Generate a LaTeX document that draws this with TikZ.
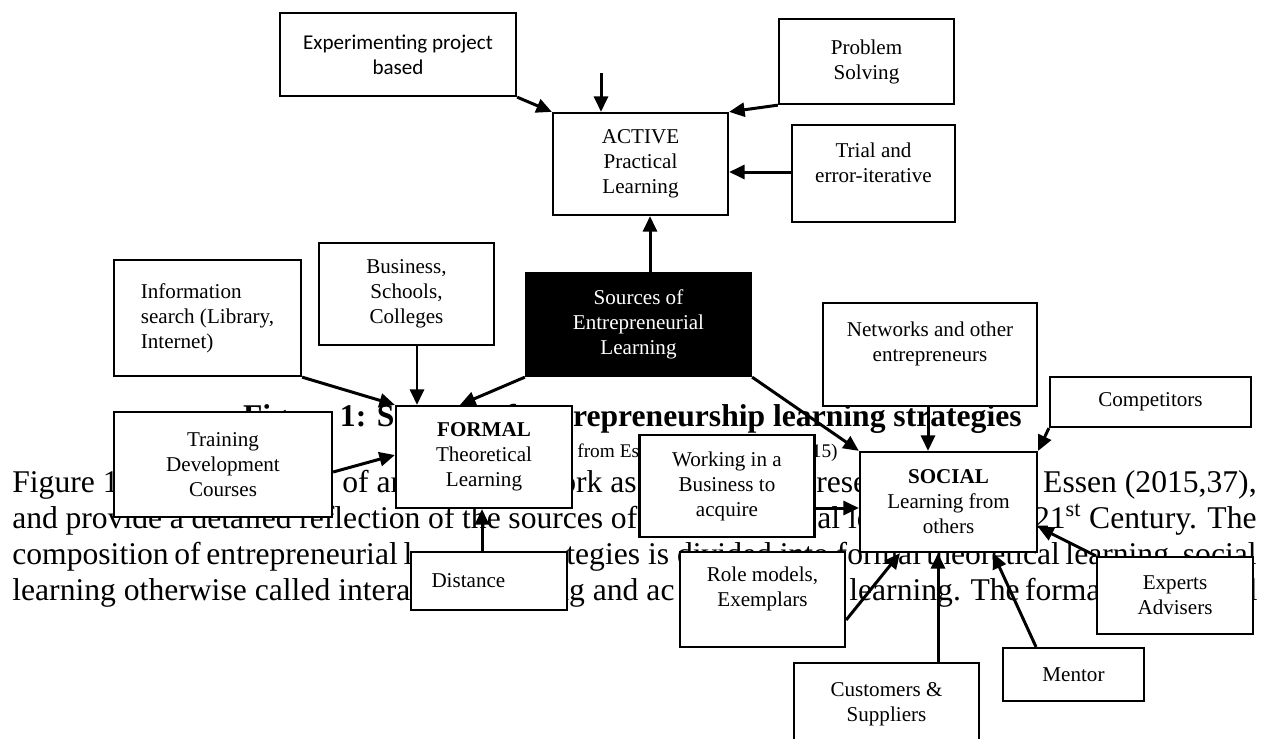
\documentclass[tikz,border=0pt]{standalone}
\usepackage{fontspec}
\setmainfont{Liberation Serif}
\newfontfamily\calibri{Carlito}
\usetikzlibrary{arrows.meta}
\newcommand{\bodyfont}{\fontsize{18}{21}\selectfont}
\newcommand{\boxfont}{\fontsize{12}{14.2}\selectfont}
\tikzset{
  box/.style={draw, fill=white, line width=1.3pt, align=center, font=\boxfont, inner sep=1pt},
  srcbox/.style={box, fill=black, text=white},
  boxtxt/.style={align=center, font=\boxfont, inner sep=0pt},
  arr/.style={-{Triangle[length=3.1mm, width=2.8mm]}, line width=1.7pt},
  txt/.style={font=\bodyfont, inner sep=0pt, anchor=base west},
  txtr/.style={txt, anchor=base east},
  capt/.style={font=\fontsize{18}{21}\selectfont\bfseries, inner sep=0pt, anchor=base east},
  subcapt/.style={font=\fontsize{11}{13}\selectfont, inner sep=0pt, anchor=base west},
}

\begin{document}
\begin{tikzpicture}[x=0.02cm, y=-0.02cm]
\fill[white] (0,0) rectangle (1267,738);
\useasboundingbox (0,0) rectangle (1267,738);
% page text behind the figure
\node[capt] (cap) at (1022,426) {Figure 1: Sources of Entrepreneurship learning strategies};
\node[subcapt] (suba) at (577,457) {from Essen};
\node[subcapt, anchor=base east] (subb) at (838,457) {2015)};
\node[txt] (la1) at (12,492) {Figure 1};
\node[txt] (la2) at (342,492) {of an};
\node[txtr] (la3) at (637,492) {framework as};
\node[txt] (la4) at (816,492) {resented by};
\node[txtr] (la5) at (1257,492) {Essen (2015,37),};
\node[txt] (lb1) at (12,528) {\makebox[12.5cm][s]{and provide a detailed reflection of the sources of}};
\node[txt] (lb2) at (817,528) {al learning in the};
\node[txtr] (lb3) at (1257,528) {21\textsuperscript{st} Century. The};
\node[txt] (lc1) at (12,564) {\makebox[8.0cm][s]{composition of entrepreneurial l}};
\node[txt] (lc2) at (566,564) {tegies is divided into};
\node[txtr] (lc3) at (1257,564) {\makebox[8.4cm][s]{formal theoretical learning, social}};
\node[txt] (ld1) at (12,600) {\makebox[7.96cm][s]{learning otherwise called intera}};
\node[txt] (ld2) at (553,600) {ng and ac};
\node[txt] (ld3) at (849,600) {\makebox[4.98cm][s]{learning. The forma}};
\node[txtr] (ld4) at (1258,600) {l};
% boxes
\node[box, font=\calibri\fontsize{12}{14.2}\selectfont, minimum width=4.72cm, minimum height=1.66cm] (exp) at (398,54.5) {Experimenting project\\based};
\node[box, minimum width=3.5cm, minimum height=2.04cm] (active) at (640.5,164) {ACTIVE\\Practical\\Learning};
\node[box, minimum width=3.5cm, minimum height=1.7cm] (ps) at (866.5,61.5) {Problem\\Solving};
\node[box, minimum width=3.26cm, minimum height=1.94cm] (trial) at (873.5,173.5) {};
\node[boxtxt] (trialtxt) at (873.5,163) {Trial and\\error-iterative};
\node[srcbox, minimum width=4.5cm, minimum height=2.06cm] (src) at (638.5,324.5) {Sources of\\Entrepreneurial\\Learning};
\node[box, align=left, minimum width=3.74cm, minimum height=2.32cm] (info) at (207.5,318) {Information\\search (Library,\\Internet)};
\node[box, minimum width=3.5cm, minimum height=2.04cm] (bus) at (406.5,294) {Business,\\Schools,\\Colleges};
\node[box, minimum width=3.52cm, minimum height=2.04cm] (formal) at (484,457) {\textbf{FORMAL}\\Theoretical\\Learning};
\node[box, minimum width=4.36cm, minimum height=2.1cm] (train) at (223,464.5) {Training\\Development\\Courses};
\node[box, text width=2.3cm, align=left, minimum width=3.12cm, minimum height=1.16cm] (dist) at (489,581) {Distance};
\node[box, minimum width=4.28cm, minimum height=2.06cm] (net) at (930,354.5) {};
\node[boxtxt] (nettxt) at (930,344) {Networks and other\\entrepreneurs};
\node[box, minimum width=4.02cm, minimum height=1cm] (comp) at (1150.5,402) {Competitors};
\node[box, minimum width=3.54cm, minimum height=2cm] (social) at (948.5,502) {\textbf{SOCIAL}\\Learning from\\others};
\node[box, minimum width=3.5cm, minimum height=2.04cm] (work) at (727,486) {Working in a\\Business to\\acquire};
\node[box, minimum width=3.3cm, minimum height=1.9cm] (role) at (762.5,599.5) {};
\node[boxtxt] (roletxt) at (762.5,588.5) {Role models,\\Exemplars};
\node[box, minimum width=3.7cm, minimum height=1.64cm] (cust) at (886.5,704) {Customers \&\\Suppliers};
\node[box, minimum width=2.82cm, minimum height=1.06cm] (mentor) at (1073.5,674.5) {Mentor};
\node[box, minimum width=3.12cm, minimum height=1.54cm] (expert) at (1175,595.5) {Experts\\Advisers};
% connectors
\coordinate (drop) at (601,73);
\draw[arr] (exp.south east) -- (active.north west);
\draw[arr] (drop) -- (drop |- active.north);
\draw[arr] (ps.south west) -- (active.north east);
\draw[arr] (trial.west |- 0,172) -- (active.east |- 0,172);
\draw[arr] (src.north -| 650,0) -- (active.south -| 650,0);
\draw[arr] (src.south west) -- (formal.north -| 460,0);
\draw[arr] (info.south east) -- (formal.north west);
\draw[arr] (bus.south -| 417,0) -- (formal.north -| 417,0);
\draw[arr] (train.east |- 0,472) -- (formal.west |- 0,455);
\draw[arr] (dist.north -| 482,0) -- (formal.south -| 482,0);
\draw[arr] (src.south east) -- (social.north west);
\draw[arr] (net.south -| 928,0) -- (social.north -| 928,0);
\draw[arr] (comp.south west) -- (social.north east);
\draw[arr] (work.east |- 0,508) -- (social.west |- 0,508);
\draw[arr] (role.east |- 0,620) -- (social.south -| 900,0);
\draw[arr] (cust.north -| 938,0) -- (social.south -| 938,0);
\draw[arr] (mentor.north -| 1036,0) -- (social.south -| 993,0);
\draw[arr] (expert.north west) -- (social.east |- 0,527);
\end{tikzpicture}
\end{document}
